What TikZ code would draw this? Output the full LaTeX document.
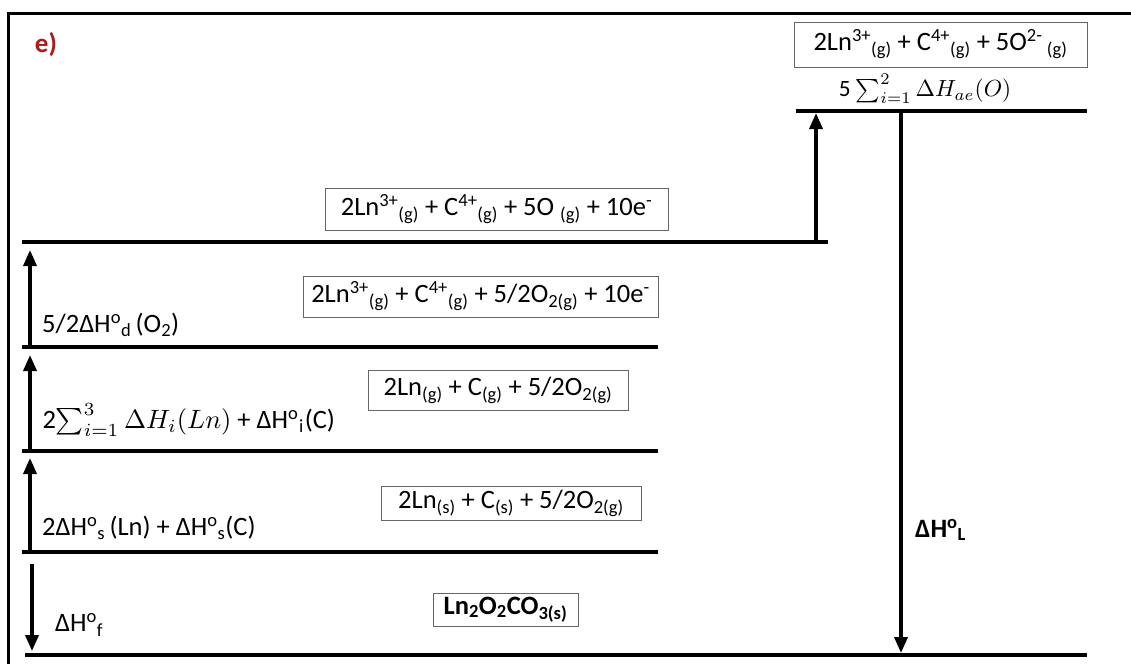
\documentclass[tikz,border=0pt]{standalone}
\usepackage{amsmath}
\usepackage{fontspec}
\setmainfont{Carlito}
\usetikzlibrary{arrows.meta}
\newcommand{\sps}[1]{\textsuperscript{#1}}
\newcommand{\sbs}[1]{\textsubscript{#1}}
\newcommand{\bigfont}{\fontsize{26.5}{30}\selectfont}
\definecolor{lblred}{RGB}{178,24,24}
\begin{document}
\begin{tikzpicture}[x=1pt,y=-1pt,
 level/.style={line width=4pt},
 arr/.style={line width=3.5pt,-{Triangle[length=16pt,width=13pt]}},
 box/.style={draw=black!60, line width=1pt, fill=white, inner sep=0pt, font=\bigfont},
 lab/.style={font=\bigfont, inner sep=0pt, anchor=west},
 mlab/.style={font=\fontsize{10}{12}\selectfont, inner sep=0pt, scale=2.65}]
\useasboundingbox (0,0) rectangle (1131,664);
% frame
\coordinate (fbl) at (8,664);
\coordinate (ftl) at (8,13);
\coordinate (ftr) at (1131,13);
\draw[line width=3pt] (fbl) -- (ftl) -- (ftr);
\node[font=\fontsize{27}{30}\selectfont\bfseries, text=lblred, inner sep=0pt] (tag) at (46,45) {e)};
% levels
\coordinate (l0a) at (25,655);  \coordinate (l0b) at (1087,655);
\coordinate (l1a) at (22,552);  \coordinate (l1b) at (658,552);
\coordinate (l2a) at (22,451);  \coordinate (l2b) at (658,451);
\coordinate (l3a) at (22,347);  \coordinate (l3b) at (658,347);
\coordinate (l4a) at (22,242);  \coordinate (l4b) at (828,242);
\coordinate (l5a) at (796,111); \coordinate (l5b) at (1087,111);
\foreach \i in {0,...,5} {\draw[level] (l\i a) -- (l\i b);}
% boxes
\node[box, minimum width=293pt, minimum height=45pt] (b5) at (940.5,44.5)
  {2Ln\sps{3+}\sbs{(g)} + C\sps{4+}\sbs{(g)} + 5O\sps{2-}\,\sbs{(g)}};
\node[mlab, scale=0.88] (ae) at (925,89)
  {5 $\sum_{i=1}^{2}\Delta H_{ae}(O)$};
\node[box, minimum width=343pt, minimum height=42pt] (b4) at (496.5,209)
  {2Ln\sps{3+}\sbs{(g)} + C\sps{4+}\sbs{(g)} + 5O \sbs{(g)} + 10e\sps{-}};
\node[box, minimum width=355pt, minimum height=41pt] (b3) at (480.5,296.5)
  {2Ln\sps{3+}\sbs{(g)} + C\sps{4+}\sbs{(g)} + 5/2O\sbs{2(g)} + 10e\sps{-}};
\node[box, minimum width=260pt, minimum height=40pt] (b2) at (498,390)
  {2Ln\sbs{(g)} + C\sbs{(g)} + 5/2O\sbs{2(g)}};
\node[box, minimum width=260pt, minimum height=34pt] (b1) at (511,503.5)
  {2Ln\sbs{(s)} + C\sbs{(s)} + 5/2O\sbs{2(g)}};
\node[box, minimum width=145pt, minimum height=33pt, font=\bigfont\bfseries] (b0) at (505.5,609.5)
  {Ln\sbs{2}O\sbs{2}CO\sbs{3(s)}};
% left arrows
\coordinate (a4s) at (30,345); \coordinate (a4e) at (30,250);
\coordinate (a3s) at (30,449); \coordinate (a3e) at (30,355);
\coordinate (a2s) at (30,550); \coordinate (a2e) at (30,458);
\coordinate (a1s) at (32,564); \coordinate (a1e) at (32,651);
\draw[arr] (a4s) -- (a4e);
\draw[arr] (a3s) -- (a3e);
\draw[arr] (a2s) -- (a2e);
\draw[arr] (a1s) -- (a1e);
% right arrows
\coordinate (u1s) at (816,242); \coordinate (u1e) at (816,113);
\draw[arr] (u1s) -- (u1e);
\coordinate (dls) at (901,113); \coordinate (dle) at (901,653);
\draw[arr] (dls) -- (dle);
% labels
\node[lab] (t4) at (42,325) {5/2ΔH\sps{o}\sbs{d}\,(O\sbs{2})};
\node[mlab, anchor=west] (t3) at (42,420) {2$\sum_{i=1}^{3}\Delta H_i(Ln)$ + ΔH\sps{o}\sbs{i}(C)};
\node[lab] (t2) at (42,528) {2ΔH\sps{o}\sbs{s}\,(Ln) + ΔH\sps{o}\sbs{s}(C)};
\node[lab] (t1) at (55,625) {ΔH\sps{o}\sbs{f}};
\node[lab, font=\bigfont\bfseries] (tl) at (915,530) {ΔH\sps{o}\sbs{L}};
\end{tikzpicture}
\end{document}
